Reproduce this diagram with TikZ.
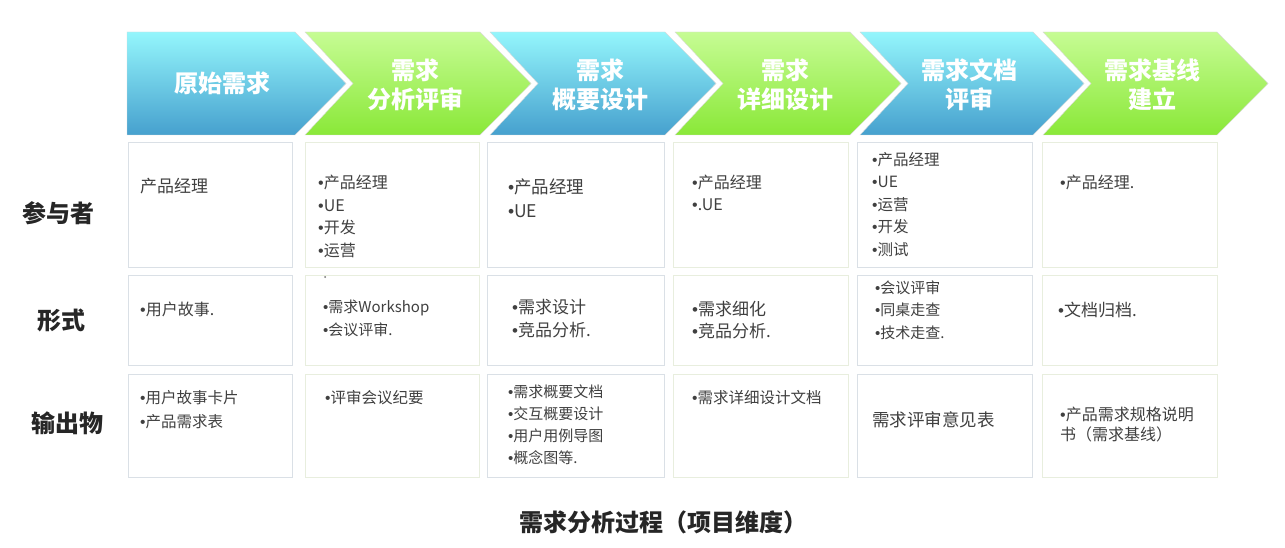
\documentclass[tikz,border=0pt]{standalone}
\usepackage{fontspec}
\setmainfont{Noto Sans CJK SC}
\newfontfamily\bulfont{Liberation Sans}
\newcommand{\bul}{{\bulfont •}}
\usepackage{tikz}

\definecolor{chevbluetop}{RGB}{148,246,252}
\definecolor{chevbluebot}{RGB}{70,160,206}
\definecolor{chevgreentop}{RGB}{198,252,148}
\definecolor{chevgreenbot}{RGB}{138,232,56}
\definecolor{cellblue}{RGB}{218,224,230}
\definecolor{cellgreen}{RGB}{232,238,222}

\begin{document}
\begin{tikzpicture}[x=1pt, y=-1pt,
    chevtext/.style={text=white, font=\fontsize{24}{29}\selectfont\bfseries, align=center},
    rowhead/.style={text=black!85, font=\fontsize{24}{29}\selectfont\bfseries},
    celltext/.style 2 args={text=black!75, anchor=north west, inner sep=0pt, align=left,
                            font=\fontsize{#1}{#2}\selectfont},
    cellbox/.style={line width=1pt, fill=white}]
    \useasboundingbox (0,0) rectangle (1285,548);

    % chevrons
    \shadedraw[top color=chevbluetop, bottom color=chevbluebot, draw=black!15]
        (127,32) -- (295,32) -- (346,83.5) -- (295,135) -- (127,135) -- cycle;
    \foreach \l/\r/\c in {305/480/green, 490/665/blue, 675/850/green, 860/1033/blue, 1043/1217/green}
        \shadedraw[top color=chev\c top, bottom color=chev\c bot, draw=black!15]
            (\l,32) -- (\r,32) -- (\r+51,83.5) -- (\r,135) -- (\l,135) -- (\l+48,83.5) -- cycle;

    \node[chevtext] (h1) at (222,83.5) {原始需求};
    \node[chevtext] (h2) at (415,84.5) {需求\\分析评审};
    \node[chevtext] (h3) at (600,84.5) {需求\\概要设计};
    \node[chevtext] (h4) at (785,84.5) {需求\\详细设计};
    \node[chevtext] (h5) at (969,84.5) {需求文档\\评审};
    \node[chevtext] (h6) at (1152,84.5) {需求基线\\建立};

    % row heads
    \node[rowhead] (rp) at (58,213) {参与者};
    \node[rowhead] (rf) at (61,320) {形式};
    \node[rowhead] (ro) at (67,423) {输出物};

    % cells
    \foreach \l/\r/\c in {128/292/blue, 305/479/green, 487/664/blue, 673/848/green, 857/1032/blue, 1042/1217/green}
        \foreach \t/\b in {143/267, 275/365, 374/477}
            \draw[cellbox, draw=cell\c] (\l,\t) rectangle (\r,\b);

    % participants
    \node[celltext={17}{24}] (p1) at (140,178.5) {产品经理};
    \node[celltext={16}{22.5}] (p2) at (318,175) {\bul{}产品经理\\\bul{}UE\\\bul{}开发\\\bul{}运营};
    \node[celltext={17.5}{24}] (p3) at (508,179) {\bul{}产品经理\\\bul{}UE};
    \node[celltext={16}{22}] (p4) at (692,175) {\bul{}产品经理\\\bul{}.UE};
    \node[celltext={15.5}{22.5}] (p5) at (872,152) {\bul{}产品经理\\\bul{}UE\\\bul{}运营\\\bul{}开发\\\bul{}测试};
    \node[celltext={16}{22}] (p6) at (1060,175) {\bul{}产品经理.};

    % form
    \node[celltext={16}{22}] (f1) at (140,302) {\bul{}用户故事.};
    \fill[black!55] (325,277) circle (1pt);
    \node[celltext={15}{23}] (f2) at (323,299.5) {\bul{}需求Workshop\\\bul{}会议评审.};
    \node[celltext={17}{23}] (f3) at (512,299.5) {\bul{}需求设计\\\bul{}竞品分析.};
    \node[celltext={17}{22}] (f4) at (692,300.5) {\bul{}需求细化\\\bul{}竞品分析.};
    \node[celltext={15}{22.5}] (f5) at (875,280.5) {\bul{}会议评审\\\bul{}同桌走查\\\bul{}技术走查.};
    \node[celltext={17}{22}] (f6) at (1058,301.5) {\bul{}文档归档.};

    % output
    \node[celltext={15.5}{24}] (o1) at (140,390) {\bul{}用户故事卡片\\\bul{}产品需求表};
    \node[celltext={15.5}{22}] (o2) at (325,390) {\bul{}评审会议纪要};
    \node[celltext={15}{22}] (o3) at (508,384.5) {\bul{}需求概要文档\\\bul{}交互概要设计\\\bul{}用户用例导图\\\bul{}概念图等.};
    \node[celltext={15.5}{22}] (o4) at (692,390) {\bul{}需求详细设计文档};
    \node[celltext={17.5}{22}] (o5) at (872,411) {需求评审意见表};
    \node[celltext={16}{20}] (o6) at (1060,407) {\bul{}产品需求规格说明\\书（需求基线）};

    \node[text=black!85, font=\fontsize{24}{28}\selectfont\bfseries] (title) at (663,522) {需求分析过程（项目维度）};
\end{tikzpicture}
\end{document}
